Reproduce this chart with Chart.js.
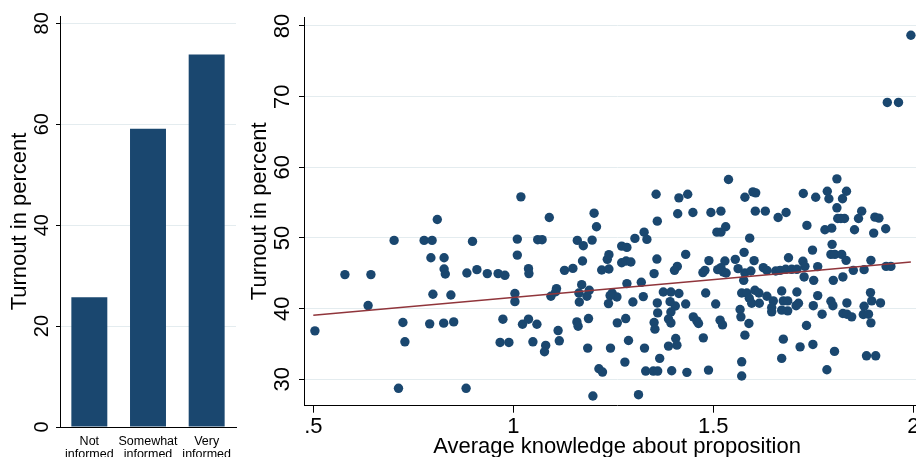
<!DOCTYPE html>
<html>
<head>
<meta charset="utf-8">
<script src="https://cdn.jsdelivr.net/npm/chart.js@4.4.1/dist/chart.umd.min.js"></script>
<style>
  html, body { margin: 0; padding: 0; background: #fff; overflow: hidden; width: 916px; height: 457px; }
  #bars { position: absolute; left: 0; top: 0; }
  #scatter { position: absolute; left: 240px; top: 0; }
</style>
</head>
<body>
<canvas id="bars" width="250" height="480"></canvas>
<canvas id="scatter" width="700" height="480"></canvas>
<script>
// --- left panel: turnout by information level ---
const barLabels = [['Not', 'informed'], ['Somewhat', 'informed'], ['Very', 'informed']];
const barTurnout = [25.7, 59.1, 73.8];
const barTicks = [0, 20, 40, 60, 80];

// --- right panel: one dot per proposition ---
const knowledge = [
  0.504,0.579,0.644,0.637,0.702,0.724,0.729,0.713,0.777,0.797,
  0.810,0.794,0.827,0.827,0.830,0.799,0.844,0.791,0.826,0.851,
  0.882,0.898,0.884,0.909,0.935,0.962,0.979,0.974,0.967,0.989,
  1.019,1.090,1.010,1.010,1.061,1.072,1.038,1.039,1.128,1.149,
  1.160,1.175,1.173,1.197,1.202,1.208,1.221,1.239,1.235,1.239,
  1.271,1.284,1.271,1.282,1.294,1.304,1.327,1.334,1.357,1.360,
  1.359,1.352,
  1.004,1.004,1.094,1.108,1.106,1.171,1.164,1.184,1.190,1.165,
  1.247,1.259,1.242,1.238,1.284,1.320,1.299,1.325,1.360,1.361,
  1.023,1.038,1.059,1.112,1.159,1.162,1.188,1.260,1.281,1.352,
  1.354,1.049,1.081,1.078,1.115,1.186,1.243,1.288,1.328,1.279,
  1.214,1.223,1.331,1.350,1.361,1.366,1.199,1.313,
  1.414,1.436,1.411,1.449,1.494,1.519,1.538,1.531,1.509,1.519,
  1.579,1.599,1.606,1.605,1.630,1.662,1.682,1.591,1.431,1.410,
  1.403,1.489,1.529,1.555,1.577,1.602,1.688,1.479,1.474,1.511,
  1.519,1.525,1.532,1.562,1.579,1.594,1.625,1.634,1.656,1.667,
  1.681,
  1.576,1.375,1.394,1.414,1.481,1.392,1.405,1.394,1.388,1.394,
  1.431,1.506,1.450,1.459,1.463,1.517,1.523,1.567,1.569,1.589,
  1.571,1.584,1.590,1.596,1.604,1.614,1.615,1.634,1.650,1.646,
  1.646,1.671,1.675,1.686,1.671,1.686,1.475,1.406,1.409,1.388,
  1.579,1.675,1.396,1.434,1.488,1.571,1.571,1.671,
  1.725,1.756,1.785,1.789,1.809,1.833,1.823,1.809,1.811,1.819,
  1.828,1.871,1.863,1.904,1.914,1.734,1.779,1.796,1.853,1.901,
  1.931,1.797,1.748,1.794,1.804,1.821,1.832,1.894,1.724,1.729,
  1.696,1.709,1.761,1.850,1.877,1.932,1.944,
  1.727,1.751,1.800,1.824,1.709,1.761,1.713,1.707,1.750,1.794,
  1.799,1.834,1.772,1.824,1.834,1.846,1.893,1.896,1.918,1.877,
  1.875,1.888,1.894,1.733,1.717,1.749,1.803,1.883,1.906,1.784,
  1.994,1.935,1.963
];
const turnout = [
  36.86,44.82,44.82,40.44,49.66,38.04,35.31,28.73,49.66,49.66,
  52.62,47.21,47.21,45.61,44.90,42.04,41.94,37.85,37.95,38.13,
  28.73,49.52,45.04,45.52,44.96,44.96,44.72,38.51,35.22,35.22,
  55.82,52.90,49.84,47.58,49.76,49.76,45.66,44.96,45.42,45.70,
  49.66,48.91,46.74,49.70,53.51,51.59,45.47,45.61,46.98,47.64,
  48.85,48.67,46.50,46.74,46.60,49.94,50.83,49.80,56.19,52.38,
  47.02,44.96,
  42.14,40.99,41.76,42.84,42.40,43.40,42.22,41.76,42.60,40.95,
  42.22,41.66,41.85,40.72,43.55,43.73,40.95,41.71,40.81,39.40,
  37.80,38.51,37.80,36.90,38.13,37.52,38.60,37.99,38.60,38.04,
  37.10,35.31,34.80,33.90,35.45,34.42,34.42,35.50,34.42,32.44,
  31.50,31.03,31.17,31.17,31.17,32.96,27.64,27.83,
  55.68,56.19,53.43,53.61,53.61,53.80,58.27,51.59,50.83,50.83,
  55.77,56.53,56.39,53.80,53.80,52.90,53.61,49.98,47.68,45.98,
  45.42,46.80,46.74,46.98,47.97,46.80,47.21,45.42,45.10,45.52,
  45.80,45.19,45.04,45.66,45.04,45.33,45.80,45.42,45.33,45.42,
  45.57,
  44.01,42.36,42.36,42.14,42.22,40.99,40.38,39.53,38.54,37.98,
  40.66,40.66,38.84,38.27,37.90,38.37,37.70,39.88,38.84,37.90,
  42.22,42.22,41.47,40.76,42.60,42.22,40.76,41.76,41.10,40.17,
  39.55,42.50,41.10,41.10,39.79,39.69,35.87,35.78,34.84,34.70,
  36.25,35.69,31.22,30.99,31.31,32.48,30.47,32.96,
  56.29,55.77,56.62,55.55,58.37,56.62,55.55,54.27,52.76,52.76,
  52.76,53.80,52.76,52.95,52.81,51.78,51.17,51.39,51.17,50.69,
  51.31,49.10,48.29,47.68,47.68,47.68,46.84,46.84,46.70,45.99,
  45.57,45.57,45.95,45.42,45.52,45.98,45.98,
  44.49,44.01,44.01,44.49,42.36,41.85,40.76,40.42,40.42,41.05,
  40.42,40.81,39.22,39.31,39.22,38.84,42.27,41.10,40.81,40.34,
  39.18,39.22,37.99,37.62,34.60,34.94,33.95,33.33,33.33,31.36,
  78.69,69.18,69.18
];
// fitted line, end points
const fitKnowledge = [0.5, 1.994];
const fitTurnout = [39.07, 46.6];

const scatterYTicks = [30, 40, 50, 60, 70, 80];
const scatterXTicks = [0.5, 1, 1.5, 2];
const scatterXLabels = ['.5', '1', '1.5', '2'];

const NAVY = '#1a476f';
const MAROON = '#90353b';
const GRID = '#e4ecef';

Chart.defaults.font.family = '"Liberation Sans", Arial, sans-serif';
Chart.defaults.color = '#000';

new Chart(document.getElementById('bars'), {
    type: 'bar',
    data: {
        labels: barLabels,
        datasets: [{
            data: barTurnout,
            backgroundColor: NAVY,
            borderWidth: 0,
            categoryPercentage: 1,
            barPercentage: 0.613
        }]
    },
    options: {
        responsive: false,
        animation: false,
        devicePixelRatio: 1,
        layout: { padding: { top: 16, right: 14, bottom: 0, left: 0 } },
        plugins: { legend: { display: false }, tooltip: { enabled: false } },
        scales: {
            x: {
                grid: { display: false },
                border: { color: '#000', width: 1, z: 1 },
                ticks: { font: { size: 12.5, lineHeight: 1.05 }, padding: -0.5, maxRotation: 0, autoSkip: false },
                afterFit: s => { s.height = 53; }
            },
            y: {
                min: 0,
                max: 81.44,
                afterBuildTicks: s => { s.ticks = barTicks.map(v => ({ value: v })); },
                grid: {
                    color: c => (c.tick && c.tick.value === 0) ? 'rgba(0,0,0,0)' : GRID,
                    tickColor: '#000',
                    tickLength: 4
                },
                border: { color: '#000', width: 1 },
                ticks: { font: { size: 20 }, minRotation: 90, maxRotation: 90, crossAlign: 'center', padding: 1.9 },
                title: { display: true, text: 'Turnout in percent', font: { size: 22 }, padding: { top: 6.8, bottom: 0 } },
                afterFit: s => { s.width = 60; }
            }
        }
    }
});

new Chart(document.getElementById('scatter'), {
    type: 'scatter',
    data: {
        datasets: [
            {
                data: fitKnowledge.map((x, i) => ({ x: x, y: fitTurnout[i] })),
                showLine: true,
                borderColor: MAROON,
                borderWidth: 1.3,
                pointRadius: 0,
                order: 0
            },
            {
                data: knowledge.map((x, i) => ({ x: x, y: turnout[i] })),
                backgroundColor: NAVY,
                borderWidth: 0,
                pointRadius: 4.7,
                order: 1
            }
        ]
    },
    options: {
        responsive: false,
        animation: false,
        devicePixelRatio: 1,
        layout: { padding: { top: 16, right: 10, bottom: 0, left: 0 } },
        plugins: { legend: { display: false }, tooltip: { enabled: false } },
        scales: {
            x: {
                type: 'linear',
                min: 0.47675,
                max: 2.04175,
                afterBuildTicks: s => { s.ticks = scatterXTicks.map(v => ({ value: v })); },
                grid: { display: true, drawOnChartArea: false, tickLength: 7, tickColor: '#000' },
                border: { color: '#000', width: 1 },
                ticks: {
                    font: { size: 22 },
                    padding: 1,
                    maxRotation: 0,
                    autoSkip: false,
                    callback: v => scatterXLabels[scatterXTicks.indexOf(v)]
                },
                title: { display: true, text: 'Average knowledge about proposition', font: { size: 22 }, padding: { top: 0, bottom: 19.8 } },
                afterFit: s => { s.height = 74.3; }
            },
            y: {
                min: 26.27,
                max: 81.27,
                afterBuildTicks: s => { s.ticks = scatterYTicks.map(v => ({ value: v })); },
                grid: { color: GRID, tickColor: '#000', tickLength: 5 },
                border: { color: '#000', width: 1 },
                ticks: { font: { size: 22 }, minRotation: 90, maxRotation: 90, crossAlign: 'center', padding: 3.8 },
                title: { display: true, text: 'Turnout in percent', font: { size: 22 }, padding: { top: 6.3, bottom: 0 } },
                afterFit: s => { s.width = 64; }
            }
        }
    }
});
</script>
</body>
</html>
